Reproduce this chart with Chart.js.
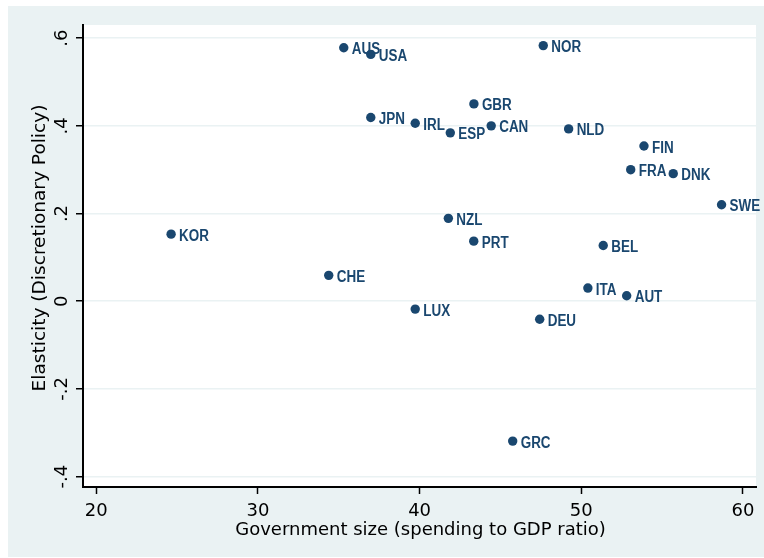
<!DOCTYPE html>
<html>
<head>
<meta charset="utf-8">
<script src="https://cdn.jsdelivr.net/npm/chart.js@4.4.1/dist/chart.umd.min.js"></script>
<style>
  html, body { margin: 0; padding: 0; background: #ffffff; }
  canvas { display: block; }
</style>
</head>
<body>
<canvas id="c" width="764" height="558"></canvas>
<script>
// ---- Data ----
const countries  = ['AUS','USA','NOR','JPN','IRL','ESP','GBR','CAN','NLD','FIN','FRA','DNK','SWE','KOR','NZL','PRT','BEL','CHE','ITA','AUT','LUX','DEU','GRC'];
const govSize    = [35.31,36.98,47.65,36.98,39.73,41.90,43.36,44.43,49.22,53.88,53.06,55.69,58.68,24.63,41.78,43.35,51.36,34.38,50.41,52.81,39.73,47.43,45.76];
const elasticity = [0.578,0.563,0.583,0.419,0.406,0.384,0.450,0.400,0.393,0.354,0.300,0.291,0.220,0.153,0.189,0.137,0.127,0.059,0.030,0.0125,-0.018,-0.041,-0.319];
const xTicks      = [20,30,40,50,60];
const xTickLabels = ['20','30','40','50','60'];
const yTicks      = [-0.4,-0.2,0,0.2,0.4,0.6];
const yTickLabels = ['-.4','-.2','0','.2','.4','.6'];
const xTitle = 'Government size (spending to GDP ratio)';
const yTitle = 'Elasticity (Discretionary Policy)';

const NAVY = '#1a476f';
const OUTER = '#eaf2f3';
const AXISFONT = '18px "DejaVu Sans", Verdana, sans-serif';
const LABELFONT = 'bold 16px "Liberation Sans", Arial, sans-serif';

const decor = {
  id: 'decor',
  beforeDraw(chart) {
    const ctx = chart.ctx, a = chart.chartArea;
    ctx.save();
    ctx.fillStyle = '#ffffff';
    ctx.fillRect(0, 0, chart.width, chart.height);
    ctx.fillStyle = OUTER;
    ctx.fillRect(8, 6, chart.width - 8, 551);
    ctx.fillStyle = '#ffffff';
    ctx.fillRect(a.left, a.top, a.right - a.left, a.bottom - a.top);
    ctx.restore();
  },
  afterDatasetsDraw(chart) {
    const ctx = chart.ctx;
    const meta = chart.getDatasetMeta(0);
    ctx.save();
    ctx.font = LABELFONT;
    ctx.fillStyle = NAVY;
    ctx.textAlign = 'left';
    ctx.textBaseline = 'alphabetic';
    meta.data.forEach((pt, i) => {
      ctx.save();
      ctx.translate(pt.x + 8, pt.y + 6.5);
      ctx.scale(0.84, 1);
      ctx.fillText(countries[i], 0, 0);
      ctx.restore();
    });
    ctx.restore();
  },
  afterDraw(chart) {
    const ctx = chart.ctx, a = chart.chartArea;
    const xs = chart.scales.x, ys = chart.scales.y;
    ctx.save();
    ctx.font = AXISFONT;
    ctx.fillStyle = '#000000';
    ctx.textBaseline = 'alphabetic';
    // x tick labels
    ctx.textAlign = 'center';
    xTicks.forEach((v, i) => {
      ctx.fillText(xTickLabels[i], xs.getPixelForValue(v), 516);
    });
    // x title
    ctx.fillText(xTitle, (a.left + a.right) / 2 + 1, 535);
    // y tick labels (rotated)
    yTicks.forEach((v, i) => {
      ctx.save();
      ctx.translate(66.5, ys.getPixelForValue(v));
      ctx.rotate(-Math.PI / 2);
      ctx.textAlign = 'center';
      ctx.fillText(yTickLabels[i], 0, 0);
      ctx.restore();
    });
    // y title
    ctx.save();
    ctx.translate(44.5, 248);
    ctx.rotate(-Math.PI / 2);
    ctx.scale(1.03, 1);
    ctx.textAlign = 'center';
    ctx.fillText(yTitle, 0, 0);
    ctx.restore();
    ctx.restore();
  }
};

new Chart(document.getElementById('c'), {
  type: 'scatter',
  data: {
    datasets: [{
      data: countries.map((c, i) => ({ x: govSize[i], y: elasticity[i] })),
      backgroundColor: NAVY,
      borderColor: NAVY,
      borderWidth: 0,
      pointRadius: 4.7,
      pointHoverRadius: 4.7
    }]
  },
  options: {
    responsive: false,
    animation: false,
    events: [],
    layout: { padding: { left: 0, right: 8, top: 25, bottom: 0 } },
    plugins: { legend: { display: false }, tooltip: { enabled: false } },
    scales: {
      x: {
        type: 'linear',
        min: 19.18,
        max: 60.81,
        afterBuildTicks: s => { s.ticks = xTicks.map(v => ({ value: v })); },
        afterFit: s => { s.height = 71; },
        ticks: { display: false },
        grid: { drawOnChartArea: false, drawTicks: true, tickLength: 7, tickColor: '#000', tickWidth: 1.5, color: '#000' },
        border: { display: true, color: '#000', width: 2 }
      },
      y: {
        type: 'linear',
        min: -0.4237,
        max: 0.630,
        afterBuildTicks: s => { s.ticks = yTicks.map(v => ({ value: v })); },
        afterFit: s => { s.width = 83; },
        ticks: { display: false },
        grid: { color: OUTER, lineWidth: 1.5, drawTicks: true, tickLength: 7, tickColor: '#000', tickWidth: 1.5 },
        border: { display: true, color: '#000', width: 2 }
      }
    }
  },
  plugins: [decor]
});
</script>
</body>
</html>
